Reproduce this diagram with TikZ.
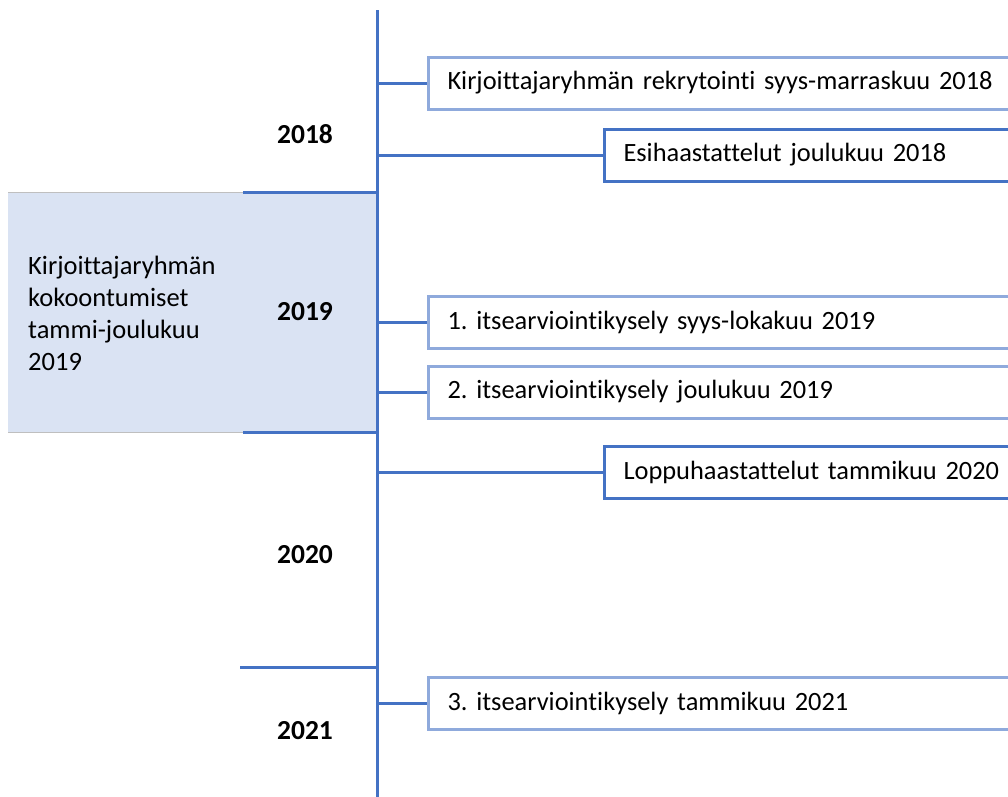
\documentclass[tikz,border=0pt]{standalone}
\usepackage{fontspec}
\setmainfont{Carlito}[Ligatures={NoCommon,NoRare}]
\definecolor{lineblue}{HTML}{4472C4}
\definecolor{paleblue}{HTML}{8FAADC}
\definecolor{bandfill}{HTML}{DAE3F3}
\frenchspacing
\begin{document}
\begin{tikzpicture}[x=1pt,y=-1pt,
    axis/.style={lineblue,line width=3pt},
    eventbox/.style={draw=#1,line width=3pt,fill=white,anchor=west,
      minimum height=52pt,inner xsep=19pt,text width=620pt,align=left,
      font=\fontsize{26.4}{30}\selectfont},
    eventbox/.default=paleblue,
    yearlabel/.style={font=\fontsize{27.5}{32}\selectfont\bfseries}]
  \useasboundingbox (0,0) rectangle (1008,796);
  \clip (0,0) rectangle (1008,796);
  % band for the meetings in 2019
  \fill[bandfill] (8,192) rectangle (377,432);
  \draw[gray!50,line width=1pt] (8,192) -- (243,192) (8,432) -- (243,432);
  \node[anchor=north west,align=left,inner sep=0pt,
    font=\fontsize{26.5}{32}\selectfont] (band) at (28,256)
    {Kirjoittajaryhmän\\kokoontumiset\\tammi-joulukuu\\2019};
  % time axis
  \coordinate (top) at (377,10);
  \coordinate (bottom) at (377,800);
  \coordinate (t18) at (377,192);
  \coordinate (t19) at (377,432);
  \coordinate (t20) at (377,667);
  \coordinate (s18) at (243,192);
  \coordinate (s19) at (243,432);
  \coordinate (s20) at (240,667);
  \draw[axis] (top) -- (bottom);
  \draw[axis] (s18) -- (t18);
  \draw[axis] (s19) -- (t19);
  \draw[axis] (s20) -- (t20);
  % years
  \node[yearlabel] (y18) at (305,134) {2018};
  \node[yearlabel] (y19) at (305,312) {2019};
  \node[yearlabel] (y20) at (305,555) {2020};
  \node[yearlabel] (y21) at (305,731) {2021};
  % events
  \node[eventbox] (e1) at (427,83) {Kirjoittajaryhmän rekrytointi syys-marraskuu 2018};
  \node[eventbox=lineblue] (e2) at (603,155) {Esihaastattelut joulukuu 2018};
  \node[eventbox] (e3) at (427,322) {1. itsearviointikysely syys-lokakuu 2019};
  \node[eventbox] (e4) at (427,392) {2. itsearviointikysely joulukuu 2019};
  \node[eventbox=lineblue] (e5) at (603,472) {Loppuhaastattelut tammikuu 2020};
  \node[eventbox] (e6) at (427,703) {3. itsearviointikysely tammikuu 2021};
  \begin{scope}[axis]
    \foreach \e in {e1,e2,e3,e4,e5,e6}
      \draw (\e.west) -- (top |- \e.west);
  \end{scope}
\end{tikzpicture}
\end{document}
